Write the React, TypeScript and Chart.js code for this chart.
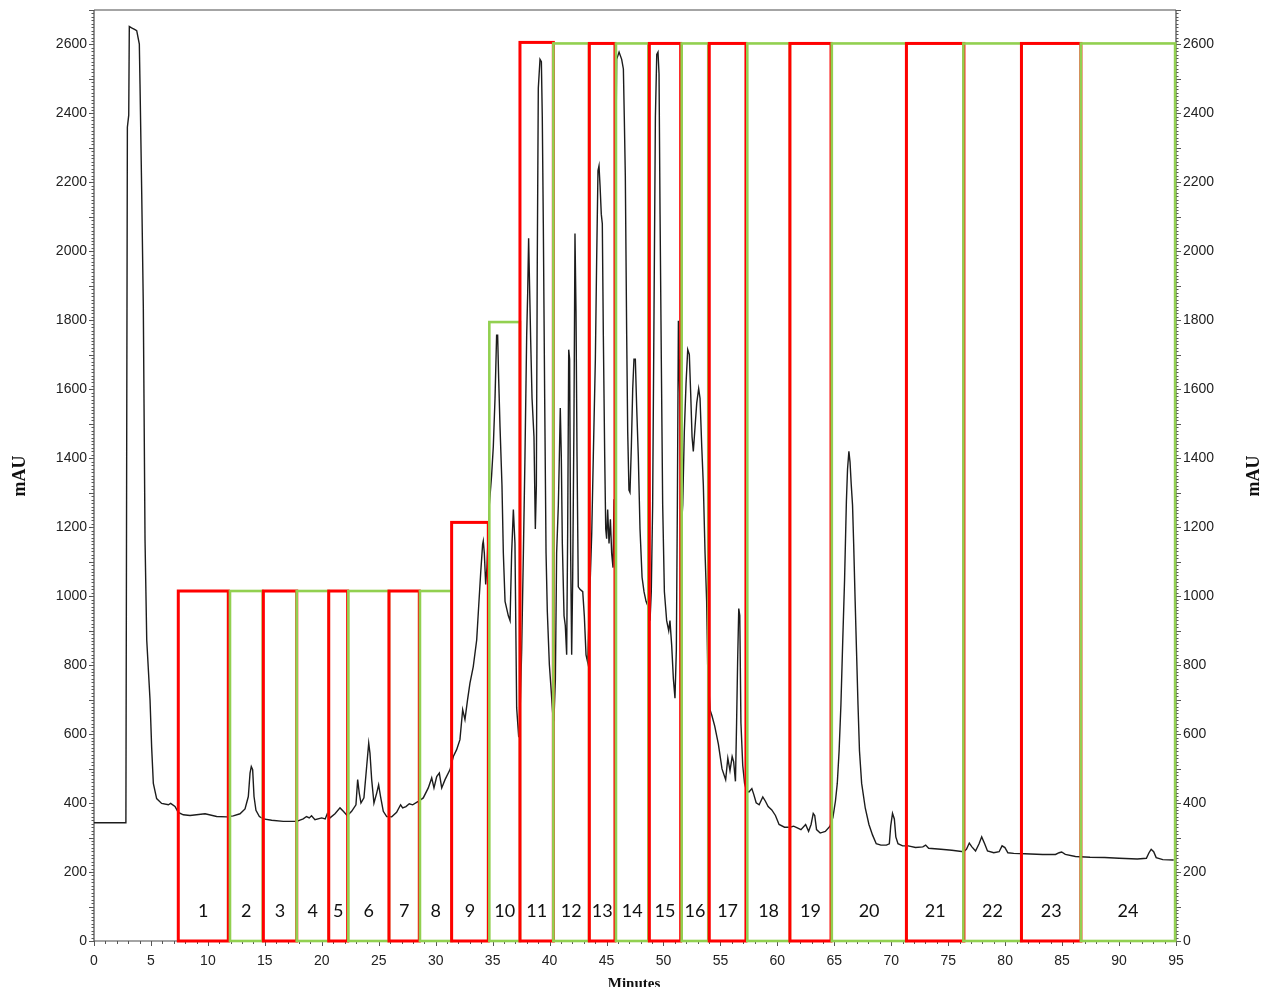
import React, { useEffect, useRef } from 'react';
import { Chart, registerables } from 'chart.js';

Chart.register(...registerables);

// Chromatogram trace: retention time (minutes) and absorbance (mAU)
const timeMin = [
  0, 1.5, 2.8, 2.93, 3.05, 3.1, 3.3, 3.6, 3.75, 3.98, 4.04, 4.19, 4.33, 4.48, 4.63, 4.92, 5.06, 5.21, 5.5, 5.94,
  6.53, 6.73, 7.11, 7.4, 7.84, 8.43, 9.75, 10.77, 11.65, 12.23, 12.82, 13.26, 13.55, 13.7, 13.81, 13.93, 14.05, 14.22, 14.52, 14.87,
  15.6, 16.62, 17.8, 18.37, 18.66, 18.9, 19.1, 19.4, 19.99, 20.3, 20.48, 20.72, 21.16, 21.6, 21.89, 22.24, 22.62, 23.0, 23.15, 23.29,
  23.44, 23.7, 23.94, 24.12, 24.23, 24.38, 24.58, 24.82, 24.99, 25.16, 25.4, 25.7, 26.14, 26.57, 26.92, 27.1, 27.39, 27.68, 27.98, 28.47,
  28.91, 29.35, 29.65, 29.85, 30.09, 30.32, 30.53, 30.82, 31.26, 31.55, 31.84, 32.13, 32.37, 32.57, 32.8, 33.01, 33.3, 33.6, 33.74, 33.95,
  34.12, 34.18, 34.27, 34.39, 34.5, 34.71, 34.91, 35.06, 35.21, 35.35, 35.44, 35.53, 35.65, 35.82, 35.94, 36.09, 36.38, 36.53, 36.67, 36.82,
  36.96, 37.11, 37.29, 37.4, 37.55, 37.7, 37.84, 37.99, 38.08, 38.16, 38.22, 38.34, 38.46, 38.63, 38.75, 38.84, 38.92, 39.01, 39.16, 39.28,
  39.36, 39.45, 39.57, 39.69, 39.8, 39.98, 40.13, 40.27, 40.39, 40.51, 40.62, 40.77, 40.86, 40.94, 41.03, 41.12, 41.27, 41.38, 41.5, 41.59,
  41.68, 41.76, 41.85, 41.94, 42.03, 42.14, 42.23, 42.32, 42.41, 42.52, 42.67, 42.91, 43.05, 43.2, 43.34, 43.55, 43.7, 43.84, 44.02, 44.13,
  44.25, 44.34, 44.43, 44.54, 44.63, 44.72, 44.84, 44.93, 45.01, 45.1, 45.22, 45.34, 45.45, 45.57, 45.66, 45.74, 45.89, 46.1, 46.33, 46.48,
  46.56, 46.65, 46.77, 46.86, 46.97, 47.06, 47.18, 47.3, 47.41, 47.53, 47.65, 47.79, 47.94, 48.12, 48.29, 48.47, 48.64, 48.82, 48.93, 49.05,
  49.17, 49.29, 49.41, 49.52, 49.61, 49.7, 49.81, 49.93, 50.08, 50.28, 50.46, 50.57, 50.72, 50.87, 51.01, 51.13, 51.22, 51.31, 51.37, 51.45,
  51.57, 51.69, 51.83, 51.98, 52.13, 52.27, 52.39, 52.51, 52.62, 52.77, 52.92, 53.09, 53.21, 53.36, 53.5, 53.65, 53.79, 53.88, 54.09, 54.25,
  54.5, 54.82, 55.14, 55.46, 55.65, 55.84, 56.03, 56.16, 56.32, 56.42, 56.51, 56.61, 56.7, 56.8, 56.96, 57.12, 57.28, 57.5, 57.76, 57.92,
  58.14, 58.4, 58.72, 58.94, 59.19, 59.51, 59.83, 60.15, 60.63, 61.11, 61.43, 61.75, 62.07, 62.48, 62.74, 62.96, 63.15, 63.28, 63.44, 63.76,
  64.21, 64.62, 64.88, 65.1, 65.26, 65.42, 65.58, 65.74, 65.9, 66.06, 66.16, 66.28, 66.38, 66.48, 66.6, 66.7, 66.83, 66.95, 67.08, 67.21,
  67.4, 67.72, 68.04, 68.36, 68.68, 69.09, 69.57, 69.83, 69.95, 70.11, 70.27, 70.4, 70.59, 71.0, 71.49, 72.13, 72.77, 73.02, 73.28, 74.36,
  75.32, 76.34, 76.6, 76.85, 77.08, 77.4, 77.71, 77.94, 78.2, 78.45, 79.0, 79.47, 79.73, 79.98, 80.24, 80.75, 81.71, 83.3, 84.42, 84.74,
  84.96, 85.28, 86.17, 87.45, 88.73, 90.0, 91.6, 92.4, 92.63, 92.82, 93.04, 93.26, 93.84, 94.8,
];

const absorbance = [
  343, 343, 343, 2360, 2395, 2652, 2648, 2643, 2640, 2601, 2485, 2168, 1839, 1163, 873, 699, 563, 457, 413, 399,
  395, 399, 390, 373, 366, 364, 369, 361, 360, 363, 369, 383, 419, 487, 506, 497, 419, 379, 361, 354,
  350, 347, 347, 354, 361, 357, 363, 352, 357, 354, 369, 357, 369, 386, 376, 363, 376, 395, 468, 429,
  400, 415, 506, 574, 545, 468, 400, 429, 453, 419, 376, 361, 360, 373, 395, 386, 390, 398, 395, 405,
  415, 444, 473, 444, 477, 487, 444, 468, 497, 535, 555, 584, 671, 642, 700, 748, 796, 873, 951, 1067,
  1150, 1160, 1125, 1034, 1083, 1265, 1350, 1434, 1574, 1757, 1757, 1631, 1490, 1322, 1125, 985, 943, 929, 1125, 1251,
  1153, 676, 591, 648, 844, 1125, 1406, 1757, 1883, 2038, 1939, 1743, 1574, 1462, 1195, 1322, 1967, 2473, 2557, 2550,
  2389, 2080, 1574, 1125, 957, 802, 732, 662, 648, 760, 1125, 1265, 1406, 1546, 1406, 1153, 943, 915, 830, 1195,
  1715, 1687, 1125, 830, 1055, 1504, 2052, 1827, 1406, 1027, 1020, 1013, 943, 830, 809, 1027, 1181, 1406, 1687, 1967,
  2234, 2248, 2192, 2108, 2080, 1757, 1406, 1195, 1167, 1251, 1153, 1223, 1125, 1083, 1279, 1967, 2557, 2578, 2557, 2529,
  2389, 2220, 1757, 1476, 1308, 1301, 1434, 1602, 1687, 1687, 1546, 1406, 1195, 1055, 1013, 985, 971, 929, 1013, 1265,
  1827, 2389, 2571, 2578, 2515, 2108, 1687, 1265, 1013, 929, 900, 929, 858, 760, 704, 844, 1265, 1799, 1687, 1546,
  1195, 1265, 1476, 1616, 1715, 1701, 1588, 1462, 1420, 1490, 1560, 1602, 1574, 1434, 1322, 1125, 985, 802, 670, 654,
  623, 571, 499, 468, 530, 494, 535, 520, 463, 633, 809, 964, 944, 633, 509, 457, 437, 432, 442, 426,
  401, 395, 418, 406, 390, 380, 364, 338, 330, 330, 333, 328, 323, 338, 318, 338, 370, 364, 323, 313,
  318, 333, 359, 406, 457, 551, 685, 871, 1047, 1275, 1368, 1420, 1389, 1327, 1264, 1151, 985, 840, 685, 551,
  457, 385, 338, 307, 282, 278, 278, 282, 333, 370, 354, 302, 282, 276, 276, 271, 273, 278, 269, 266,
  263, 259, 266, 284, 273, 261, 282, 302, 282, 261, 256, 259, 276, 271, 256, 254, 253, 251, 251, 256,
  258, 251, 245, 243, 242, 240, 238, 240, 256, 266, 259, 242, 236, 235,
];

// Collected fractions (boxes)
const fractionLabels = ['1', '2', '3', '4', '5', '6', '7', '8', '9', '10', '11', '12', '13', '14', '15', '16', '17', '18', '19', '20', '21', '22', '23', '24'];
const fractionStart = [7.4, 11.94, 14.87, 17.8, 20.61, 22.33, 25.9, 28.62, 31.4, 34.71, 37.4, 40.33, 43.49, 45.83, 48.76, 51.6, 54.02, 57.36, 61.1, 64.78, 71.33, 76.33, 81.43, 86.65];
const fractionEnd = [11.79, 14.81, 17.8, 20.61, 22.27, 25.9, 28.56, 31.4, 34.62, 37.4, 40.33, 43.46, 45.74, 48.67, 51.51, 53.93, 57.24, 61.1, 64.71, 71.33, 76.38, 81.43, 86.65, 94.92];
const fractionTop = [1015, 1015, 1015, 1015, 1015, 1015, 1015, 1015, 1214, 1795, 2606, 2603, 2603, 2603, 2603, 2603, 2603, 2603, 2603, 2603, 2603, 2603, 2603, 2603];
const fractionKind = ['red', 'green', 'red', 'green', 'red', 'green', 'red', 'green', 'red', 'green', 'red', 'green', 'red', 'green', 'red', 'green', 'red', 'green', 'red', 'green', 'red', 'green', 'red', 'green'];

const X_MIN = 0;
const X_MAX = 95;
const Y_MIN = 0;
const Y_MAX = 2700;

const KIND_COLOR: Record<string, string> = { red: '#ff0000', green: '#92d050' };
const KIND_WIDTH: Record<string, number> = { red: 3, green: 2.6 };

export default function App() {
  const canvasRef = useRef<HTMLCanvasElement | null>(null);

  useEffect(() => {
    const canvas = canvasRef.current;
    if (!canvas) return;

    const framePlugin = {
      id: 'frameTicks',
      beforeDatasetsDraw(chart: any) {
        const { ctx, chartArea } = chart;
        const { left, right, top, bottom } = chartArea;
        const y = chart.scales.y;
        const x = chart.scales.x;
        ctx.save();
        ctx.strokeStyle = '#4a4a4a';
        ctx.lineWidth = 1.2;
        ctx.beginPath();
        ctx.moveTo(left, top);
        ctx.lineTo(right, top);
        ctx.moveTo(left, top);
        ctx.lineTo(left, bottom);
        ctx.moveTo(right, top);
        ctx.lineTo(right, bottom);
        ctx.moveTo(left, bottom);
        ctx.lineTo(right, bottom);
        ctx.stroke();
        ctx.lineWidth = 1;
        ctx.strokeStyle = '#555';
        ctx.beginPath();
        for (let v = Y_MIN; v <= Y_MAX; v += 10) {
          const py = Math.round(y.getPixelForValue(v)) + 0.5;
          const len = v % 100 === 0 ? 5 : 2.5;
          ctx.moveTo(left, py);
          ctx.lineTo(left - len, py);
          ctx.moveTo(right, py);
          ctx.lineTo(right + len, py);
        }
        for (let m = X_MIN; m <= X_MAX; m += 1) {
          const px = Math.round(x.getPixelForValue(m)) + 0.5;
          const len = m % 5 === 0 ? 5 : 3;
          ctx.moveTo(px, bottom);
          ctx.lineTo(px, bottom + len);
        }
        ctx.stroke();
        ctx.restore();
      },
      afterDatasetsDraw(chart: any) {
        const { ctx } = chart;
        const x = chart.scales.x;
        const y = chart.scales.y;
        ctx.save();
        const base = y.getPixelForValue(0);
        for (let i = 0; i < fractionLabels.length; i++) {
          const l = x.getPixelForValue(fractionStart[i]);
          const r = x.getPixelForValue(fractionEnd[i]);
          const t = y.getPixelForValue(fractionTop[i]);
          ctx.strokeStyle = KIND_COLOR[fractionKind[i]];
          ctx.lineWidth = KIND_WIDTH[fractionKind[i]];
          ctx.strokeRect(l, t, r - l, base - t);
        }
        ctx.fillStyle = '#111';
        ctx.font = '18px Lato';
        ctx.textAlign = 'center';
        ctx.textBaseline = 'middle';
        const ly = y.getPixelForValue(86);
        for (let i = 0; i < fractionLabels.length; i++) {
          const cx = (x.getPixelForValue(fractionStart[i]) + x.getPixelForValue(fractionEnd[i])) / 2;
          ctx.fillText(fractionLabels[i], cx, ly);
        }
        ctx.restore();
      },
      afterDraw(chart: any) {
        const { ctx, chartArea } = chart;
        ctx.save();
        ctx.fillStyle = '#111';
        ctx.font = 'bold 18px "Liberation Serif"';
        ctx.textAlign = 'center';
        ctx.textBaseline = 'middle';
        ctx.save();
        ctx.translate(20, 476);
        ctx.rotate(-Math.PI / 2);
        ctx.fillText('mAU', 0, 0);
        ctx.restore();
        ctx.save();
        ctx.translate(1254, 476);
        ctx.rotate(-Math.PI / 2);
        ctx.fillText('mAU', 0, 0);
        ctx.restore();
        ctx.font = 'bold 15px "Liberation Serif"';
        ctx.textBaseline = 'alphabetic';
        ctx.fillText('Minutes', (chartArea.left + chartArea.right) / 2 - 1, 988);
        ctx.restore();
      },
    };

    const points = timeMin.map((t, i) => ({ x: t, y: absorbance[i] }));
    const tickFont = { family: '"Liberation Sans", Arial, sans-serif', size: 14 };
    const yLabel = (v: any) => (Number(v) % 200 === 0 && Number(v) <= 2600 ? String(v) : '');

    const chart = new Chart(canvas, {
      type: 'line',
      data: {
        datasets: [
          {
            data: points,
            borderColor: '#1c1c1c',
            borderWidth: 1.4,
            pointRadius: 0,
            tension: 0,
            fill: false,
          },
        ],
      },
      options: {
        animation: false,
        responsive: false,
        maintainAspectRatio: false,
        layout: { padding: { top: 10, left: 0, right: 0, bottom: 0 } },
        plugins: { legend: { display: false }, tooltip: { enabled: false }, title: { display: false } },
        scales: {
          x: {
            type: 'linear',
            position: 'bottom',
            min: X_MIN,
            max: X_MAX,
            grid: { display: false, drawTicks: false },
            border: { display: false },
            ticks: { stepSize: 5, padding: 12, color: '#222', font: tickFont, maxRotation: 0, autoSkip: false },
            afterFit: (s: any) => { s.height = 46; s.paddingLeft = 0; s.paddingRight = 0; },
          },
          y: {
            type: 'linear',
            position: 'left',
            min: Y_MIN,
            max: Y_MAX,
            grid: { display: false, drawTicks: false },
            border: { display: false },
            ticks: { stepSize: 200, padding: 7, color: '#222', font: tickFont, callback: yLabel },
            afterFit: (s: any) => { s.width = 94; s.paddingTop = 0; s.paddingBottom = 0; },
          },
          y2: {
            type: 'linear',
            position: 'right',
            min: Y_MIN,
            max: Y_MAX,
            grid: { display: false, drawTicks: false },
            border: { display: false },
            ticks: { stepSize: 200, padding: 7, color: '#222', font: tickFont, callback: yLabel },
            afterFit: (s: any) => { s.width = 86; s.paddingTop = 0; s.paddingBottom = 0; },
          },
        },
      },
      plugins: [framePlugin],
    } as any);

    return () => chart.destroy();
  }, []);

  return (
    <div style={{ position: 'fixed', left: 0, top: 0, width: 1262, height: 987, background: '#fff' }}>
      <canvas ref={canvasRef} width={1262} height={987} style={{ display: 'block' }} />
    </div>
  );
}
